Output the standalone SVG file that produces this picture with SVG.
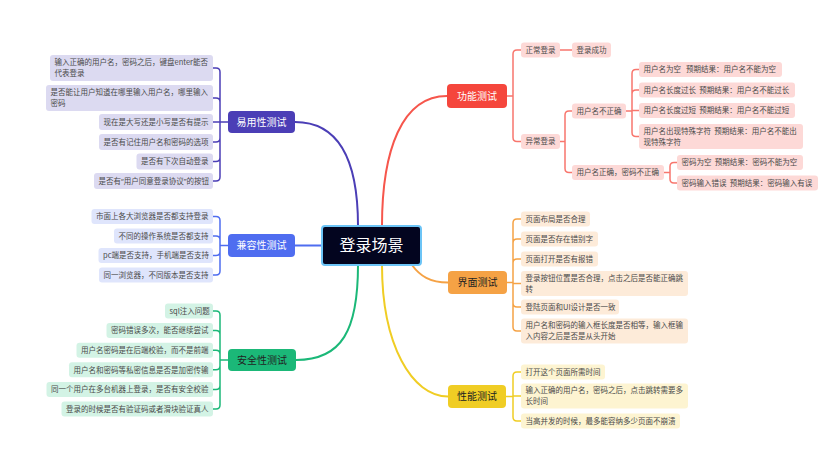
<svg xmlns="http://www.w3.org/2000/svg" width="831" height="475" viewBox="0 0 831 475">
<style>
text{font-family:"Noto Sans CJK SC","Noto Sans",sans-serif;white-space:pre}
.lf{font-size:7.5px;fill:#4a4a4a}
.q{font-family:"Noto Sans",sans-serif}
.mt{font-size:10px;text-anchor:middle}
.w{fill:#fff}.d{fill:#222}
.c{fill:none;stroke-width:2;stroke-linecap:round}
.b{fill:none;stroke-width:1.5;stroke-linecap:round}
.pu{stroke:#4b3eb6}.bl{stroke:#4f6df0}.gr{stroke:#1bb878}.rd{stroke:#f6564c}.rl{stroke:#f8766d}.or{stroke:#f5a245}.ye{stroke:#f0cd24}
.lpu{fill:#dcdaf1}.lbl{fill:#dfe5fc}.lgr{fill:#d3f3e5}.lrd{fill:#fdd9d7}.lor{fill:#fdebd9}.lye{fill:#fdf4d1}
</style>
<rect width="831" height="475" fill="#fff"/>
<g id="connectors">
<path class="c pu" d="M295,122 C342,122 358,165 358,226"/>
<path class="c rd" d="M447,96 C402,96 382,150 382,226"/>
<path class="c bl" d="M295,245.5 H322"/>
<path class="c gr" d="M358,265 C358,330 342,360 296,360"/>
<path class="c ye" d="M382,265 C382,345 412,396.5 448,396.5"/>
<path class="c or" d="M412,265 C420,276 430,282.5 448,282.5"/>
<g class="b pu">
<path d="M228,122 H220 M220,122 V72 Q220,68 216,68 H213 M220,122 V102 Q220,98 216,98 H213 M220,122 H213 M220,122 V138 Q220,142 216,142 H213 M220,122 V157.5 Q220,161.5 216,161.5 H213 M220,122 V177 Q220,181 216,181 H213"/>
</g>
<g class="b bl">
<path d="M228,245.5 H220 M220,245.5 V220.5 Q220,216.5 216,216.5 H213 M220,245.5 V240 Q220,236 216,236 H213 M220,245.5 V251.5 Q220,255.5 216,255.5 H213 M220,245.5 V271 Q220,275 216,275 H213"/>
</g>
<g class="b gr">
<path d="M228,360 H220 M220,360 V315 Q220,311 216,311 H213 M220,360 V334.6 Q220,330.6 216,330.6 H213 M220,360 V354.2 Q220,350.2 216,350.2 H213 M220,360 V365.8 Q220,369.8 216,369.8 H213 M220,360 V385.4 Q220,389.4 216,389.4 H213 M220,360 V405 Q220,409 216,409 H213"/>
</g>
<g class="b rl">
<path d="M507,96 H513 M513,96 V54 Q513,50 517,50 H521 M513,96 V137.5 Q513,141.5 517,141.5 H521"/>
<path d="M560,50 H572"/>
<path d="M560,141.5 H565 M565,141.5 V115 Q565,111 569,111 H572 M565,141.5 V168.5 Q565,172.5 569,172.5 H572"/>
<path d="M626,111 H632 M632,111 V73.5 Q632,69.5 636,69.5 H639 M632,111 V94 Q632,90 636,90 H639 M632,111 V110.5 H639 M632,111 V132.5 Q632,136.5 636,136.5 H639"/>
<path d="M664,172.5 H670 M670,172.5 V166.5 Q670,162.5 674,162.5 H677 M670,172.5 V179 Q670,183 674,183 H677"/>
</g>
<g class="b or">
<path d="M507,282.5 H513 M513,282.5 V223 Q513,219 517,219 H521 M513,282.5 V243 Q513,239 517,239 H521 M513,282.5 V263 Q513,259 517,259 H521 M513,282.5 V283.5 H521 M513,282.5 V303 Q513,307 517,307 H521 M513,282.5 V327 Q513,331 517,331 H521"/>
</g>
<g class="b ye">
<path d="M506,396.5 H513 M513,396.5 V376 Q513,372 517,372 H521 M513,396.5 V396 H521 M513,396.5 V417 Q513,421 517,421 H521"/>
</g>
</g>

<g id="root">
<rect x="322" y="226" width="99" height="39" rx="3" fill="#03051f" stroke="#6cc4f6" stroke-width="2"/>
<text x="371.5" y="251.3" font-size="16" text-anchor="middle" fill="#fff">登录场景</text>
</g>

<g id="yiyongxing">
<rect x="228" y="111" width="67" height="22" rx="4" fill="#4b3eb6"/>
<text class="mt w" x="261.5" y="125.6">易用性测试</text>
</g>
<g id="yy1"><rect class="lpu" x="50" y="55" width="163" height="26" rx="3"/><text class="lf" x="54.5" y="65.4">输入正确的用户名，密码之后，键盘enter能否</text><text class="lf" x="54.5" y="76">代表登录</text></g>
<g id="yy2"><rect class="lpu" x="46" y="85" width="167" height="26" rx="3"/><text class="lf" x="50.5" y="95.4">是否能让用户知道在哪里输入用户名，哪里输入</text><text class="lf" x="50.5" y="106">密码</text></g>
<g id="yy3"><rect class="lpu" x="99" y="114" width="114" height="16" rx="3"/><text class="lf" x="103.5" y="124.7">现在是大写还是小写是否有提示</text></g>
<g id="yy4"><rect class="lpu" x="99" y="134" width="114" height="16" rx="3"/><text class="lf" x="103.5" y="144.7">是否有记住用户名和密码的选项</text></g>
<g id="yy5"><rect class="lpu" x="136.5" y="153.5" width="76.5" height="16" rx="3"/><text class="lf" x="141" y="164.2">是否有下次自动登录</text></g>
<g id="yy6"><rect class="lpu" x="94" y="173" width="119" height="16" rx="3"/><text class="lf" x="98.5" y="183.7">是否有<tspan class="q">“</tspan>用户同意登录协议<tspan class="q">”</tspan>的按钮</text></g>

<g id="jianrongxing">
<rect x="228" y="234" width="67" height="23" rx="4" fill="#4f6df0"/>
<text class="mt w" x="261.5" y="249.1">兼容性测试</text>
</g>
<g id="jr1"><rect class="lbl" x="91.5" y="209" width="121.5" height="15" rx="3"/><text class="lf" x="96" y="219.2">市面上各大浏览器是否都支持登录</text></g>
<g id="jr2"><rect class="lbl" x="114" y="228.5" width="99" height="15" rx="3"/><text class="lf" x="118.5" y="238.7">不同的操作系统是否都支持</text></g>
<g id="jr3"><rect class="lbl" x="98.5" y="248" width="114.5" height="15" rx="3"/><text class="lf" x="103" y="258.2">pc端是否支持，手机端是否支持</text></g>
<g id="jr4"><rect class="lbl" x="99" y="267.5" width="114" height="15" rx="3"/><text class="lf" x="103.5" y="277.7">同一浏览器，不同版本是否支持</text></g>

<g id="anquanxing">
<rect x="228" y="349" width="68" height="22" rx="4" fill="#1bb878"/>
<text class="mt d" x="262" y="363.6">安全性测试</text>
</g>
<g id="aq1"><rect class="lgr" x="165" y="303.5" width="48" height="15" rx="3"/><text class="lf" x="169.5" y="313.7">sql注入问题</text></g>
<g id="aq2"><rect class="lgr" x="106.5" y="323.1" width="106.5" height="15" rx="3"/><text class="lf" x="111" y="333.3">密码错误多次，能否继续尝试</text></g>
<g id="aq3"><rect class="lgr" x="76.5" y="342.7" width="136.5" height="15" rx="3"/><text class="lf" x="81" y="352.9">用户名密码是在后端校验，而不是前端</text></g>
<g id="aq4"><rect class="lgr" x="69" y="362.3" width="144" height="15" rx="3"/><text class="lf" x="73.5" y="372.5">用户名和密码等私密信息是否是加密传输</text></g>
<g id="aq5"><rect class="lgr" x="46.5" y="381.9" width="166.5" height="15" rx="3"/><text class="lf" x="51" y="392.1">同一个用户在多台机器上登录，是否有安全校验</text></g>
<g id="aq6"><rect class="lgr" x="61.5" y="401.5" width="151.5" height="15" rx="3"/><text class="lf" x="66" y="411.7">登录的时候是否有验证码或者滑块验证真人</text></g>

<g id="gongneng">
<rect x="447" y="84" width="60" height="24" rx="4" fill="#f5463c"/>
<text class="mt w" x="477" y="99.6">功能测试</text>
</g>
<g id="gn1"><rect class="lrd" x="521" y="42.5" width="39" height="15" rx="3"/><text class="lf" x="525.5" y="52.7">正常登录</text></g>
<g id="gn1a"><rect class="lrd" x="572" y="42.5" width="39" height="15" rx="3"/><text class="lf" x="576.5" y="52.7">登录成功</text></g>
<g id="gn2"><rect class="lrd" x="521" y="134" width="39" height="15" rx="3"/><text class="lf" x="525.5" y="144.2">异常登录</text></g>
<g id="gn2a"><rect class="lrd" x="572" y="103.5" width="54" height="15" rx="3"/><text class="lf" x="576.5" y="113.7">用户名不正确</text></g>
<g id="gn2a1"><rect class="lrd" x="639" y="62" width="143" height="15" rx="3"/><text class="lf" x="643.5" y="72.2">用户名为空   预期结果：用户名不能为空</text></g>
<g id="gn2a2"><rect class="lrd" x="639" y="82.5" width="156" height="15" rx="3"/><text class="lf" x="643.5" y="92.7">用户名长度过长  预期结果：用户名不能过长</text></g>
<g id="gn2a3"><rect class="lrd" x="639" y="103" width="156" height="15" rx="3"/><text class="lf" x="643.5" y="113.2">用户名长度过短  预期结果：用户名不能过短</text></g>
<g id="gn2a4"><rect class="lrd" x="639" y="124" width="164" height="25" rx="3"/><text class="lf" x="643.5" y="133.9">用户名出现特殊字符  预期结果：用户名不能出</text><text class="lf" x="643.5" y="144.5">现特殊字符</text></g>
<g id="gn2b"><rect class="lrd" x="572" y="165" width="92" height="15" rx="3"/><text class="lf" x="576.5" y="175.2">用户名正确，密码不正确</text></g>
<g id="gn2b1"><rect class="lrd" x="677" y="155" width="126" height="15" rx="3"/><text class="lf" x="681.5" y="165.2">密码为空  预期结果：密码不能为空</text></g>
<g id="gn2b2"><rect class="lrd" x="677" y="175.5" width="141" height="15" rx="3"/><text class="lf" x="681.5" y="185.7">密码输入错误  预期结果：密码输入有误</text></g>

<g id="jiemian">
<rect x="448" y="271" width="59" height="23" rx="4" fill="#f5a245"/>
<text class="mt d" x="477.5" y="286.1">界面测试</text>
</g>
<g id="jm1"><rect class="lor" x="521" y="211.5" width="69" height="15" rx="3"/><text class="lf" x="525.5" y="221.7">页面布局是否合理</text></g>
<g id="jm2"><rect class="lor" x="521" y="231.5" width="77" height="15" rx="3"/><text class="lf" x="525.5" y="241.7">页面是否存在错别字</text></g>
<g id="jm3"><rect class="lor" x="521" y="251.5" width="77" height="15" rx="3"/><text class="lf" x="525.5" y="261.7">页面打开是否有报错</text></g>
<g id="jm4"><rect class="lor" x="521" y="271" width="167" height="25" rx="3"/><text class="lf" x="525.5" y="280.9">登录按钮位置是否合理，点击之后是否能正确跳</text><text class="lf" x="525.5" y="291.5">转</text></g>
<g id="jm5"><rect class="lor" x="521" y="299.5" width="98" height="15" rx="3"/><text class="lf" x="525.5" y="309.7">登陆页面和UI设计是否一致</text></g>
<g id="jm6"><rect class="lor" x="521" y="318.5" width="167" height="25" rx="3"/><text class="lf" x="525.5" y="328.4">用户名和密码的输入框长度是否相等，输入框输</text><text class="lf" x="525.5" y="339">入内容之后是否是从头开始</text></g>

<g id="xingneng">
<rect x="448" y="385" width="58" height="23" rx="4" fill="#f0cd24"/>
<text class="mt d" x="477" y="400.1">性能测试</text>
</g>
<g id="xn1"><rect class="lye" x="521" y="364.5" width="84" height="15" rx="3"/><text class="lf" x="525.5" y="374.7">打开这个页面所需时间</text></g>
<g id="xn2"><rect class="lye" x="521" y="383.5" width="167" height="25" rx="3"/><text class="lf" x="525.5" y="393.4">输入正确的用户名，密码之后，点击跳转需要多</text><text class="lf" x="525.5" y="404">长时间</text></g>
<g id="xn3"><rect class="lye" x="521" y="413.5" width="159" height="15" rx="3"/><text class="lf" x="525.5" y="423.7">当高并发的时候，最多能容纳多少页面不崩溃</text></g>
</svg>
